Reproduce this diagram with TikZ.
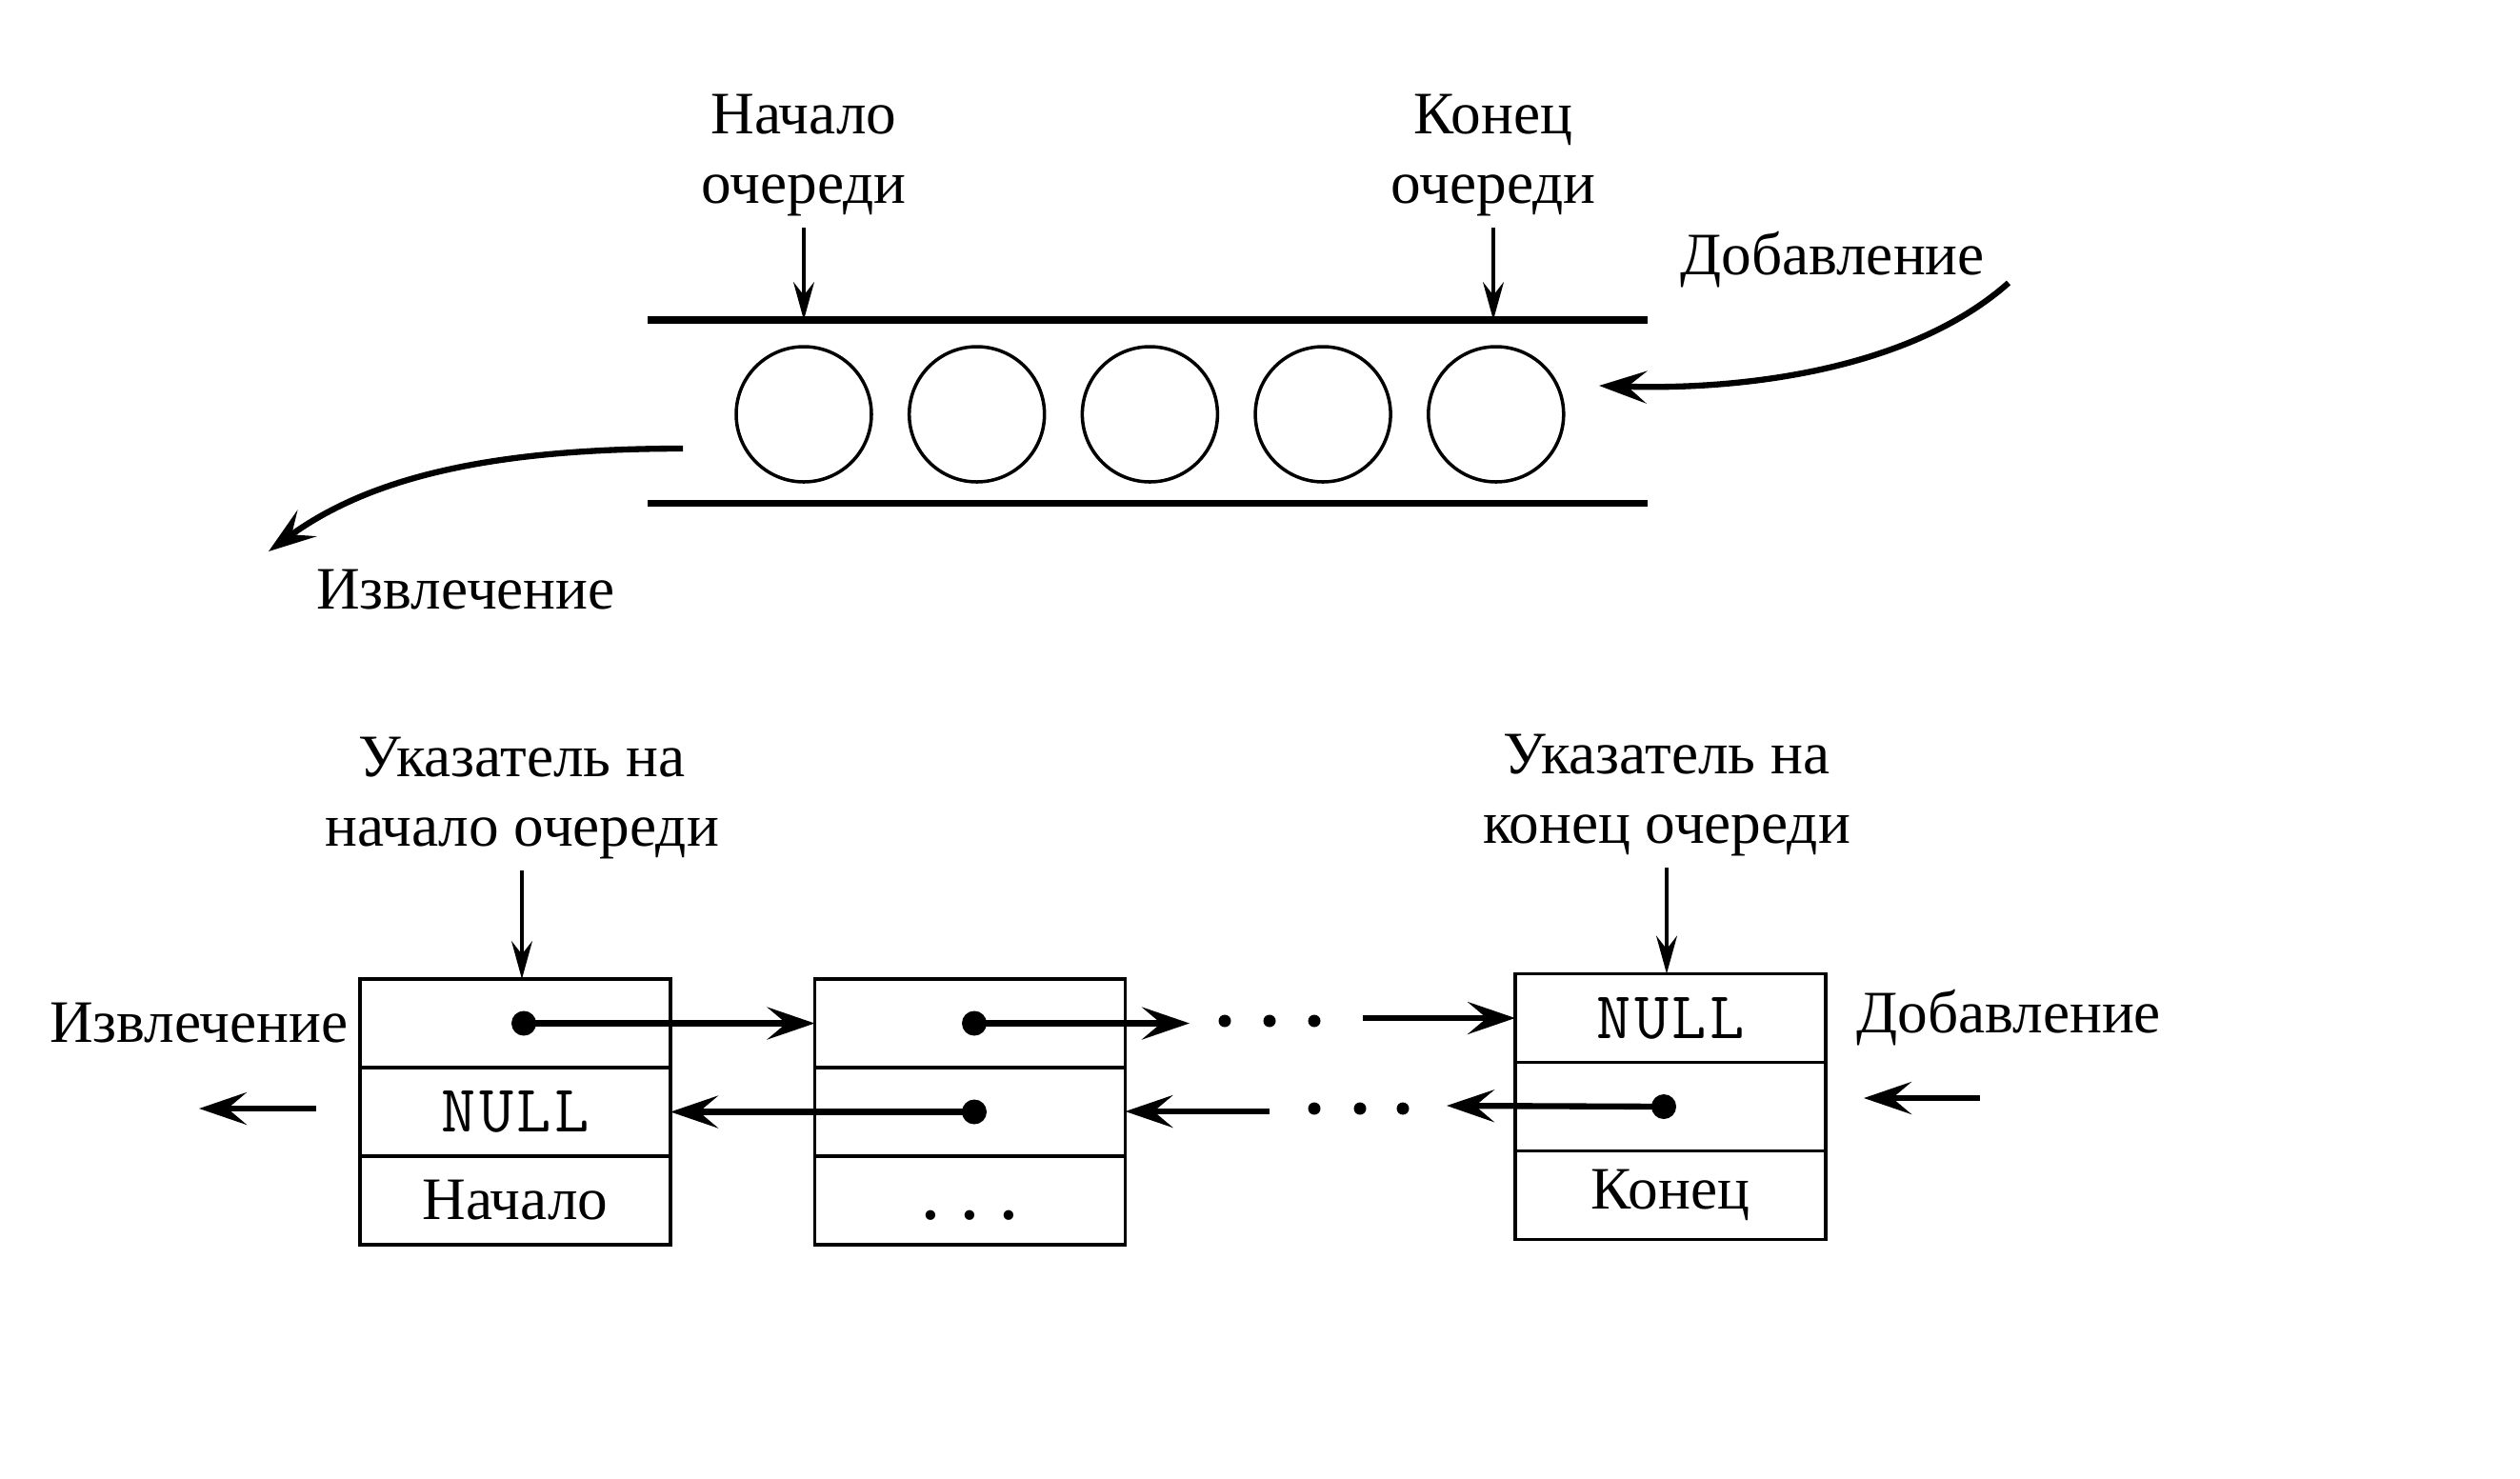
\documentclass[tikz,border=0pt]{standalone}
\usepackage{fontspec}
\setmainfont{Liberation Serif}
\usetikzlibrary{arrows.meta,positioning}

\newcommand{\nullptr}{{\ttfamily\fontsize{20}{20}\selectfont N\kern1pt U\kern1pt L\kern1pt L}}

\begin{document}
\begin{tikzpicture}[
    font=\fontsize{18}{20.6}\selectfont,
    wall/.style={line width=2pt},
    ball/.style={circle, draw, line width=1pt, minimum size=1.42cm, inner sep=0pt},
    cell/.style={draw, line width=1.1pt, minimum width=3.26cm, minimum height=0.93cm, inner sep=0pt, outer sep=0pt},
    link/.style={line width=1.8pt, -{Stealth[length=5mm,width=3.4mm,inset=2mm]}},
    ptr/.style={line width=0.9pt, -{Stealth[length=4mm,width=2.2mm,inset=1.4mm]}},
    lbl/.style={align=center}
  ]
  \useasboundingbox (0,0) rectangle (26.46,-15.52);

  % queue as a tube
  \coordinate (tl) at (6.80,-3.36);
  \coordinate (tr) at (17.30,-3.36);
  \coordinate (bl) at (6.80,-5.28);
  \coordinate (br) at (17.30,-5.28);
  \draw[wall] (tl) -- (tr) (bl) -- (br);
  \foreach \i in {1,...,5}
    \node[ball] (q\i) at ({8.44+1.817*(\i-1)},-4.35) {};

  \node[lbl] (head) at (8.44,-1.63) {Начало\\очереди};
  \node[lbl] (tail) at (15.68,-1.63) {Конец\\очереди};
  \draw[ptr] (head.south) -- (head.south |- tl);
  \draw[ptr] (tail.south) -- (tail.south |- tr);

  \node (add) at (19.24,-2.73) {Добавление};
  \coordinate (adda) at (21.09,-2.97);
  \coordinate (addb) at (16.79,-4.05);
  \draw[link] (adda) .. controls (20.1,-3.85) and (18.4,-4.1) .. (addb);

  \node (take) at (4.89,-6.19) {Извлечение};
  \coordinate (takea) at (7.17,-4.71);
  \coordinate (takeb) at (2.82,-5.79);
  \draw[link] (takea) .. controls (5.2,-4.71) and (3.9,-5.0) .. (takeb);

  % queue as a list
  \node[cell] (a1) at (5.41,-10.745) {};
  \node[cell, below=0pt of a1] (a2) {\nullptr};
  \node[cell, below=0pt of a2] (a3) {Начало};
  \node[cell] (b1) at (10.185,-10.745) {};
  \node[cell, below=0pt of b1] (b2) {};
  \node[cell, below=0pt of b2] (b3) {\vphantom{Н}\textbf{.\hspace{0.4em}.\hspace{0.4em}.}};
  \node[cell] (c1) at (17.54,-10.69) {\nullptr};
  \node[cell, below=0pt of c1] (c2) {};
  \node[cell, below=0pt of c2] (c3) {Конец};

  \node[lbl] (hp) at (5.48,-8.38) {Указатель на\\начало очереди};
  \node[lbl] (tp) at (17.50,-8.35) {Указатель на\\конец очереди};
  \draw[ptr] (hp.south) -- (hp.south |- a1.north);
  \draw[ptr] (tp.south) -- (tp.south |- c1.north);

  \node[left=0pt of a1] (outl) {Извлечение};
  \node[right=0.2cm of c1] (inl) {Добавление};

  \coordinate (pa) at ([xshift=0.09cm]a1.center);
  \coordinate (pb) at ([xshift=0.045cm]b1.center);
  \coordinate (pb2) at ([xshift=0.045cm]b2.center);
  \coordinate (pc2) at ([xshift=-0.07cm]c2.center);
  \foreach \p in {pa,pb,pb2,pc2}
    \fill (\p) circle (0.13);

  \coordinate (r1) at (12.49,-10.745);
  \coordinate (r2) at (14.31,-10.69);
  \coordinate (r3) at (15.19,-11.61);
  \coordinate (r4) at (13.33,-11.67);
  \draw[link] (pa) -- (b1.west |- pa);
  \draw[link] (pb) -- (r1);
  \draw[link] (r2) -- (c1.west);
  \draw[link] (pb2) -- (a2.east |- pb2);
  \draw[link] (pc2) -- (r3);
  \draw[link] (r4) -- (b2.east |- r4);
  \foreach \x in {12.86,13.33,13.80}
    \fill (\x,-10.72) circle (0.065);
  \foreach \x in {13.80,14.28,14.73}
    \fill (\x,-11.64) circle (0.065);

  \coordinate (o1) at (3.32,-11.64);
  \coordinate (o2) at (2.09,-11.64);
  \coordinate (i1) at (20.79,-11.53);
  \coordinate (i2) at (19.57,-11.53);
  \draw[link] (o1) -- (o2);
  \draw[link] (i1) -- (i2);
\end{tikzpicture}
\end{document}
